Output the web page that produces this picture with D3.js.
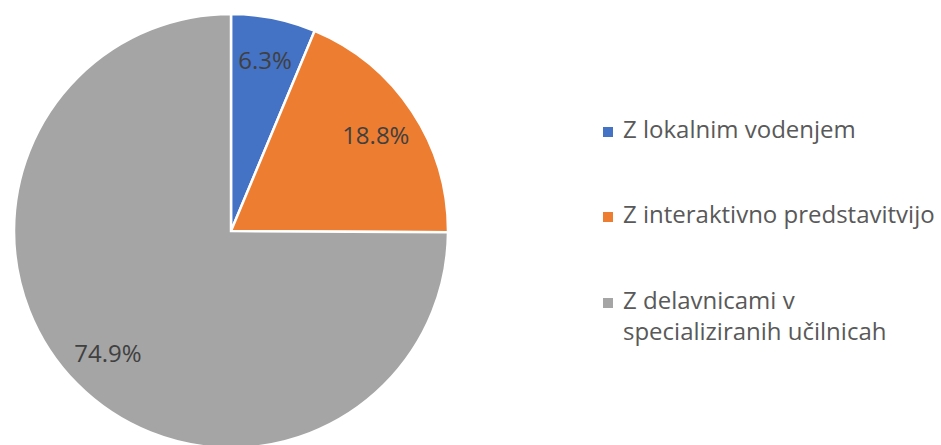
<!DOCTYPE html>
<html>
  <head>
    <meta charset="utf-8">
    <title>Pie</title>
    <script src="https://cdn.jsdelivr.net/npm/d3@7"></script>
    <style>
      body { margin: 0; background: #fff; }
      svg { display: block; font-family: "Open Sans", "Liberation Sans", Arial, sans-serif; }
      .label { fill: #404040; font-size: 24px; }
      .legend text { fill: #595959; font-size: 24px; }
    </style>
  </head>
  <body>
    <svg id="chart" width="941" height="445"></svg>
    <script>
      // data
      categories = ["Z lokalnim vodenjem", "Z interaktivno predstavitvijo", "Z delavnicami v specializiranih učilnicah"];
      legendLines = [["Z lokalnim vodenjem"], ["Z interaktivno predstavitvijo"], ["Z delavnicami v", "specializiranih učilnicah"]];
      values = [6.3, 18.8, 74.9];
      colours = ["#4472C4", "#ED7D31", "#A5A5A5"];

      chart = d3.select("#chart");
      cx = 231;
      cy = 231;
      radius = 217;

      pie = d3.pie().sort(null).value(d => d);
      arcs = pie(values);
      arc = d3.arc().innerRadius(0).outerRadius(radius);
      labelArc = d3.arc().innerRadius(radius * 0.8).outerRadius(radius * 0.8);

      pieGroup = chart.append("g")
        .attr("transform", "translate(" + cx + "," + cy + ")");

      pieGroup.selectAll("path")
        .data(arcs)
        .enter().append("path")
          .attr("d", arc)
          .attr("fill", (d, i) => colours[i])
          .attr("stroke", "#fff")
          .attr("stroke-width", 2.5)
          .attr("stroke-linejoin", "miter");

      pieGroup.selectAll(".label")
        .data(arcs)
        .enter().append("text")
          .classed("label", true)
          .attr("transform", d => "translate(" + labelArc.centroid(d) + ")")
          .attr("text-anchor", "middle")
          .attr("dy", "0.36em")
          .text(d => d.data.toFixed(1) + "%");

      // legend (baseline of first line per entry)
      legendY = [138, 223, 309];
      legend = chart.append("g").classed("legend", true);
      legendItems = legend.selectAll("g")
        .data(categories)
        .enter().append("g")
          .attr("transform", (d, i) => "translate(603," + legendY[i] + ")");

      legendItems.append("rect")
        .attr("x", 0)
        .attr("y", -11)
        .attr("width", 10)
        .attr("height", 10)
        .attr("fill", (d, i) => colours[i]);

      legendItems.append("text")
        .selectAll("tspan")
        .data((d, i) => legendLines[i])
        .enter().append("tspan")
          .attr("x", 20)
          .attr("dy", (d, i) => i == 0 ? 0 : 31)
          .text(d => d);
    </script>
  </body>
</html>
